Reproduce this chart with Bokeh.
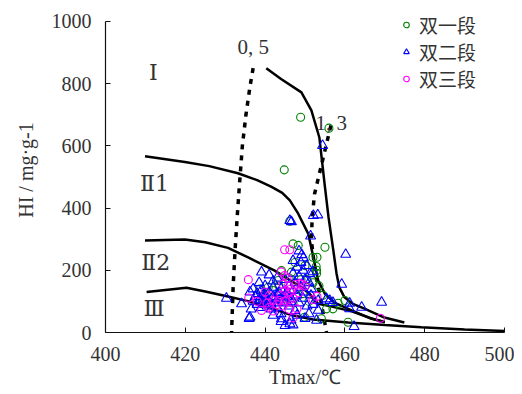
from bokeh.plotting import figure
from bokeh.models import Range1d, Legend, LegendItem, Label, FixedTicker
from bokeh.embed import file_html
from bokeh.resources import INLINE

# ---- data ----
x_ticks = [400, 420, 440, 460, 480, 500]
y_ticks = [0, 200, 400, 600, 800, 1000]

# boundary curves (kerogen types)
curve_I_x = [440.3, 444, 449.1, 451.6, 453.6, 454.9, 455.9, 457.1, 457.9, 458.6, 459.9, 462, 464.9, 469.9, 474.9]
curve_I_y = [850, 815, 772, 714, 627, 479, 370, 264, 190, 145, 113, 92, 77, 48, 32]
curve_II1_x = [409.9, 419.9, 426, 433.2, 438, 441.5, 444.3, 446.2, 448.3, 450.8, 452.1, 453.3, 455, 457.5, 461.7, 466.7, 470]
curve_II1_y = [567, 548, 535, 512, 490, 469, 449, 425, 382, 318, 242, 167, 124, 95, 71, 44, 33]
curve_II2_x = [409.9, 419.9, 425, 430.7, 436, 442.4, 446, 449.1, 451.5, 453.3, 456.5, 461.7, 466.7, 470]
curve_II2_y = [296, 299, 290, 272, 240, 199, 170, 146, 120, 92, 84, 68, 45, 34]
curve_III_x = [410.3, 420.3, 425, 430.7, 436, 441, 446.6, 452, 460.8, 470, 479.2, 490, 500]
curve_III_y = [130, 144, 132, 116, 100, 80, 56, 42, 32, 24, 17, 10, 5]

# Ro iso-lines
ro05_x = [437, 436.2, 435.2, 434.3, 433.6, 433, 432.5, 432, 431.6]
ro05_y = [850, 790, 700, 600, 480, 370, 270, 150, 0]
ro13_x = [456.5, 454.1, 452.4, 451.8, 451.6, 452.5, 454, 455.4]
ro13_y = [666, 537, 446, 371, 296, 200, 100, 0]

# samples
s1_x = [456, 448.9, 444.8, 446.2, 455, 447, 448.3, 452, 453, 452.9, 452.9, 444.1, 446.6, 438.7, 440.8,
        443.3, 449.9, 454.1, 455.4, 457, 458.3, 460, 460.8, 452.8, 450.5, 448, 445, 442, 440, 447,
        449.5, 451, 443.5, 446, 439.5, 444, 452, 450, 447.5, 454.5, 453.5, 449]
s1_y = [657, 692, 523, 358, 274, 285, 280, 242, 242, 200, 190, 199, 194, 140, 146,
        167, 49, 44, 76, 76, 94, 103, 33, 212, 170, 140, 120, 135, 118, 95,
        125, 100, 150, 175, 105, 100, 160, 215, 225, 120, 150, 170]

s2_x = [430.3, 436, 439.1, 436.2, 434.1, 436.2, 444.1, 446.2, 445, 447, 446.2, 446.6, 447, 448.5, 449.2,
        449.6, 451.2, 453.3, 452.9, 456.2, 459.2, 460.2, 461.2, 461.2, 464.2, 469.2, 462.3, 454.4, 452.1, 453.2,
        451.4, 455.4, 453.3, 451.6, 457,
        437, 437.5, 438, 438, 438.5, 439, 439, 439.5, 440, 440, 440.5, 441, 441, 441.5, 442,
        442, 442.5, 443, 443, 443.5, 444, 444, 444.5, 445, 445, 445.5, 446, 446, 446.5, 447,
        447, 447.5, 447.5, 448, 448, 448.5, 448.5, 449, 449, 449.5, 449.5, 450, 450, 450.5, 450.5,
        451, 451, 451.5, 452, 452, 442, 440, 438.5, 441, 443, 436.5, 437, 442, 444, 446.5,
        448, 450, 439.5, 440.5, 441.5, 442.5, 443.5, 444.5, 445.5, 446.5]
s2_y = [110, 45, 194, 130, 92, 49, 44, 28, 22, 24, 360, 356, 231, 262, 250,
        240, 189, 103, 39, 103, 155, 251, 94, 76, 81, 97, 19, 601, 376, 378,
        310, 108, 71, 140, 96,
        100, 115, 90, 125, 105, 80, 135, 95, 110, 120, 85, 100, 130, 75, 115,
        145, 95, 125, 80, 105, 140, 60, 115, 95, 170, 130, 85, 150, 110, 190,
        135, 160, 70, 210, 120, 180, 95, 225, 145, 200, 110, 170, 130, 215, 85,
        160, 60, 120, 195, 90, 165, 150, 160, 185, 175, 75, 140, 55, 35, 40,
        55, 45, 120, 105, 90, 110, 128, 100, 115, 98]

s3_x = [435.8, 444.9, 446.2, 444.9, 444.5, 445.8, 447.7, 448.7, 449.3, 445, 446.2, 442, 443.5, 445, 446.2,
        435.9, 439.1, 442, 446, 448, 447, 452, 453, 468.9, 444, 443, 440.5, 441, 445.5, 446.5,
        444, 447, 438, 441, 444.5, 440, 448.5, 450]
s3_y = [170, 266, 266, 183, 155, 150, 155, 157, 155, 135, 130, 103, 103, 101, 105,
        111, 71, 69, 74, 76, 47, 106, 116, 46, 120, 90, 95, 118, 175, 140,
        195, 110, 100, 80, 85, 130, 128, 150]

series_names = ["双一段", "双二段", "双三段"]
series_colors = ["#008000", "#0000ff", "#ff00ff"]

SERIF = "Liberation Serif"
CJK = "Noto Sans CJK SC"
TXT = "#333333"

p = figure(width=514, height=392, output_backend="svg", toolbar_location=None,
           x_range=Range1d(400, 500), y_range=Range1d(0, 1045),
           min_border_left=105, min_border_right=10, min_border_top=7, min_border_bottom=60)
p.outline_line_color = None
p.grid.visible = False
p.background_fill_color = "white"

for ax in (p.xaxis[0], p.yaxis[0]):
    ax.major_tick_in = 5
    ax.major_tick_out = 0
    ax.minor_tick_line_color = None
    ax.axis_line_color = "#111111"
    ax.axis_line_width = 1.2
    ax.major_tick_line_color = "#111111"
    ax.major_label_text_font = SERIF
    ax.major_label_text_font_size = "20px"
    ax.major_label_text_color = TXT
    ax.axis_label_text_font = SERIF
    ax.axis_label_text_font_style = "normal"
    ax.axis_label_text_color = TXT

p.yaxis.bounds = (0, 1000)
p.xaxis.ticker = FixedTicker(ticks=x_ticks)
p.yaxis.ticker = FixedTicker(ticks=y_ticks)
p.xaxis.axis_label = "Tmax/℃"
p.yaxis.axis_label = "HI / mg·g-1"
p.xaxis.axis_label_text_font_size = "20px"
p.yaxis.axis_label_text_font_size = "20px"
p.xaxis.major_label_standoff = 14
p.yaxis.major_label_standoff = 14
p.xaxis.axis_label_standoff = 2
p.yaxis.axis_label_standoff = 12

# curves
for cx, cy in [(curve_I_x, curve_I_y), (curve_II1_x, curve_II1_y),
               (curve_II2_x, curve_II2_y), (curve_III_x, curve_III_y)]:
    p.line(cx, cy, line_color="black", line_width=2.5)
for cx, cy in [(ro05_x, ro05_y), (ro13_x, ro13_y)]:
    p.line(cx, cy, line_color="black", line_width=3.5, line_dash="5 6")

# labels
lab_kw = dict(text_color=TXT, text_align="center", text_baseline="middle")
for txt, lx, ly, fnt, fs in [("Ⅰ", 412, 836, "DejaVu Serif", "22px"),
                             ("Ⅱ1", 412.3, 478, "DejaVu Serif", "22px"),
                             ("Ⅱ2", 412.6, 226, "DejaVu Serif", "22px"),
                             ("Ⅲ", 412.2, 76, "DejaVu Serif", "22px"),
                             ("0, 5", 437, 917, SERIF, "21px"),
                             ("1, 3", 456.6, 675, SERIF, "21px")]:
    p.add_layout(Label(x=lx, y=ly, text=txt, text_font=fnt, text_font_size=fs, **lab_kw))

# samples
r1 = p.scatter(s1_x, s1_y, marker="circle", size=8, fill_color=None,
               line_color=series_colors[0], line_width=1.1)
r2 = p.scatter(s2_x, s2_y, marker="triangle", size=10, fill_color=None,
               line_color=series_colors[1], line_width=1.1)
r3 = p.scatter(s3_x, s3_y, marker="circle", size=8, fill_color=None,
               line_color=series_colors[2], line_width=1.1)

legend = Legend(items=[LegendItem(label=series_names[0], renderers=[r1]),
                       LegendItem(label=series_names[1], renderers=[r2]),
                       LegendItem(label=series_names[2], renderers=[r3])],
                location=(294, 240), padding=0, spacing=0, margin=0,
                glyph_width=14, glyph_height=27, label_height=27, label_standoff=6,
                label_text_font=CJK, label_text_font_size="19px", label_text_color=TXT,
                border_line_alpha=0, background_fill_alpha=0)
p.add_layout(legend)

open("out.html", "w").write(file_html(p, INLINE))
